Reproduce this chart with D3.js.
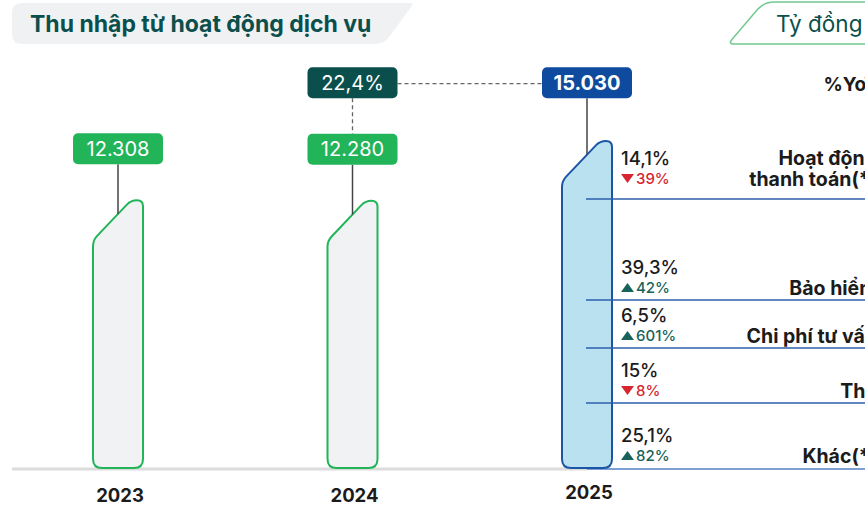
<!DOCTYPE html>
<html><head><meta charset="utf-8">
<script src="https://cdn.jsdelivr.net/npm/d3@7"></script>
<style>
html,body{margin:0;padding:0;background:#fff;overflow:hidden}
svg{display:block;font-family:Inter,"Noto Sans",sans-serif}
</style></head>
<body>
<svg id="chart" width="865" height="505"></svg>
<script>
// ---------- data ----------
const years = ["2023", "2024", "2025"];
const totals = [12308, 12280, 15030];
const growthLabel = "22,4%";
const segmentNames = [["Hoạt động", "thanh toán(*)"], ["Bảo hiểm"], ["Chi phí tư vấn"], ["Thẻ"], ["Khác(*)"]];
const segmentShares = [14.1, 39.3, 6.5, 15, 25.1];
const segmentYoY = [-39, 42, 601, -8, 82];
const titleText = "Thu nhập từ hoạt động dịch vụ";
const unitText = "Tỷ đồng";
const yoyHeader = "%YoY";

// ---------- layout ----------
const W = 865, H = 505;
const baseY = 468, topY = 141;
const rowBottoms = [199, 300, 348, 403, 468];
const C = {
  green: "#22b458", blue: "#0e4a9e", teal: "#0b4f4c", barFill: "#f0f2f4", barBlue: "#b9e1ef",
  barBlueStroke: "#1d55a6", red: "#d7262f", upGreen: "#17625a", text: "#1b1b1b"
};

const vi = d3.formatLocale({decimal: ",", thousands: ".", grouping: [3], currency: ["", ""]});
const fmtTotal = vi.format(",");
const fmtPct = vi.format("~g");

const svg = d3.select("#chart");
svg.append("rect").attr("width", W).attr("height", H).attr("fill", "#fff");

const x = d3.scalePoint().domain(years).range([118, 587]);
const y = d3.scaleLinear().domain([0, d3.max(totals)]).range([baseY, topY]);

// rounded polygon helper
function roundedPoly(pts, rs) {
  const n = pts.length; let d = "";
  for (let i = 0; i < n; i++) {
    const p = pts[i], a = pts[(i - 1 + n) % n], b = pts[(i + 1) % n];
    const la = Math.hypot(a[0] - p[0], a[1] - p[1]), lb = Math.hypot(b[0] - p[0], b[1] - p[1]);
    const r = Math.min(rs[i], la / 2, lb / 2);
    const p1 = [p[0] + (a[0] - p[0]) * r / la, p[1] + (a[1] - p[1]) * r / la];
    const p2 = [p[0] + (b[0] - p[0]) * r / lb, p[1] + (b[1] - p[1]) * r / lb];
    d += (i === 0 ? "M" : "L") + p1[0] + "," + p1[1] + "Q" + p[0] + "," + p[1] + " " + p2[0] + "," + p2[1];
  }
  return d + "Z";
}

// ---------- title ----------
svg.append("path").attr("d", roundedPoly([[12, 3], [414, 3], [384, 44], [12, 44]], [10, 4, 10, 10]))
  .attr("fill", "#f0f1f3");
svg.append("text").attr("x", 30).attr("y", 32).attr("font-size", 23).attr("font-weight", 700)
  .attr("fill", C.teal).text(titleText);

svg.append("path").attr("d", roundedPoly([[764, 2], [900, 2], [900, 44], [728, 44]], [10, 0, 0, 6]))
  .attr("fill", "#fff").attr("stroke", "#72c990").attr("stroke-width", 1.5);
svg.append("text").attr("x", 776).attr("y", 32).attr("font-size", 22.5).attr("fill", C.teal).text(unitText);

svg.append("text").attr("x", 878).attr("y", 91).attr("text-anchor", "end").attr("font-size", 19)
  .attr("font-weight", 700).attr("fill", C.text).text(yoyHeader);

// ---------- baseline ----------
svg.append("line").attr("x1", 12).attr("x2", 587).attr("y1", baseY + 1).attr("y2", baseY + 1)
  .attr("stroke", "#dcdcdc").attr("stroke-width", 3);
svg.append("line").attr("x1", 587).attr("x2", W).attr("y1", baseY + 1).attr("y2", baseY + 1)
  .attr("stroke", "#7c9fd4").attr("stroke-width", 2);

// ---------- bars ----------
const bw = 50, ch = 40, tf = 12;
function barPath(cx, top) {
  const x0 = cx - bw / 2, x1 = cx + bw / 2;
  return roundedPoly([[x0, top + ch], [x1 - tf, top], [x1, top], [x1, baseY], [x0, baseY]], [6, 7, 7, 9, 9]);
}
function diagY(cx, top) { const x0 = cx - bw / 2, x1 = cx + bw / 2; return top + ch - ch * (cx - x0) / (x1 - tf - x0); }

const last = years.length - 1;
years.forEach((yr, i) => {
  const cx = x(yr), top = y(totals[i]), isLast = i === last;
  svg.append("path").attr("d", barPath(cx, top))
    .attr("fill", isLast ? C.barBlue : C.barFill)
    .attr("stroke", isLast ? C.barBlueStroke : C.green).attr("stroke-width", 2);
});

// dividers (drawn over last bar)
const cxL = x(years[last]);
rowBottoms.slice(0, -1).forEach(yy => {
  svg.append("line").attr("x1", cxL - 1).attr("x2", W).attr("y1", yy).attr("y2", yy)
    .attr("stroke", "#2d5eab").attr("stroke-width", 1.3);
});

// ---------- value labels ----------
const bxW = 90, bxH = 31;
function labelBox(cx, top, fill, txt, bold) {
  svg.append("rect").attr("x", cx - bxW / 2).attr("y", top).attr("width", bxW).attr("height", bxH)
    .attr("rx", 5).attr("fill", fill);
  svg.append("text").attr("x", cx).attr("y", top + bxH / 2 + 7).attr("text-anchor", "middle")
    .attr("font-size", 20).attr("font-weight", bold ? 700 : 400).attr("fill", "#fff").text(txt);
}
const lowTop = y(totals[0]) - 67;
const highTop = lowTop - 66;
years.forEach((yr, i) => {
  const cx = x(yr), top = y(totals[i]);
  const boxTop = i === last ? highTop : y(totals[i]) - 67;
  svg.append("line").attr("x1", cx).attr("x2", cx).attr("y1", boxTop + bxH).attr("y2", diagY(cx, top))
    .attr("stroke", "#444").attr("stroke-width", 1.5);
  labelBox(cx, boxTop, i === last ? C.blue : C.green, fmtTotal(totals[i]), i === last);
});
// growth box + dashed connectors
const cx24 = x(years[1]);
svg.append("line").attr("x1", cx24).attr("x2", cx24).attr("y1", highTop + bxH).attr("y2", y(totals[1]) - 67)
  .attr("stroke", "#666").attr("stroke-width", 1.3).attr("stroke-dasharray", "4,3");
svg.append("line").attr("x1", cx24 + bxW / 2).attr("x2", cxL - bxW / 2).attr("y1", highTop + bxH / 2 + 1)
  .attr("y2", highTop + bxH / 2 + 1).attr("stroke", "#666").attr("stroke-width", 1.3).attr("stroke-dasharray", "4,3");
labelBox(cx24, highTop, C.teal, growthLabel, false);

// ---------- segment labels ----------
const px = 621, nameX = 877;
segmentShares.forEach((s, i) => {
  const yoyBase = rowBottoms[i] - (i === 0 ? 15 : 7);
  const pctBase = yoyBase - 19;
  svg.append("text").attr("x", px).attr("y", pctBase).attr("font-size", 18.5).attr("font-weight", 500)
    .attr("fill", C.text).text(fmtPct(s) + "%");
  const up = segmentYoY[i] >= 0;
  const col = up ? C.upGreen : C.red;
  const tx = px + 6.5, ty = yoyBase - 5;
  svg.append("path").attr("d", up
      ? `M${tx - 6.5},${ty + 4}L${tx + 6.5},${ty + 4}L${tx},${ty - 5}Z`
      : `M${tx - 6.5},${ty - 5}L${tx + 6.5},${ty - 5}L${tx},${ty + 4}Z`).attr("fill", col);
  svg.append("text").attr("x", px + 15).attr("y", yoyBase).attr("font-size", 15).attr("font-weight", 500)
    .attr("fill", col).text(Math.abs(segmentYoY[i]) + "%");
  const lines = segmentNames[i];
  lines.forEach((ln, j) => {
    svg.append("text").attr("x", nameX).attr("y", yoyBase + 2 - (lines.length - 1 - j) * 21)
      .attr("text-anchor", "end").attr("font-size", 19.5).attr("font-weight", 700).attr("fill", C.text).text(ln);
  });
});

// ---------- year axis ----------
years.forEach((yr, i) => {
  svg.append("text").attr("x", x(yr) + 2).attr("y", 502 - (i === last ? 3 : 0)).attr("text-anchor", "middle")
    .attr("font-size", 18.5).attr("font-weight", 700).attr("fill", C.text).text(yr);
});
</script>
</body></html>
